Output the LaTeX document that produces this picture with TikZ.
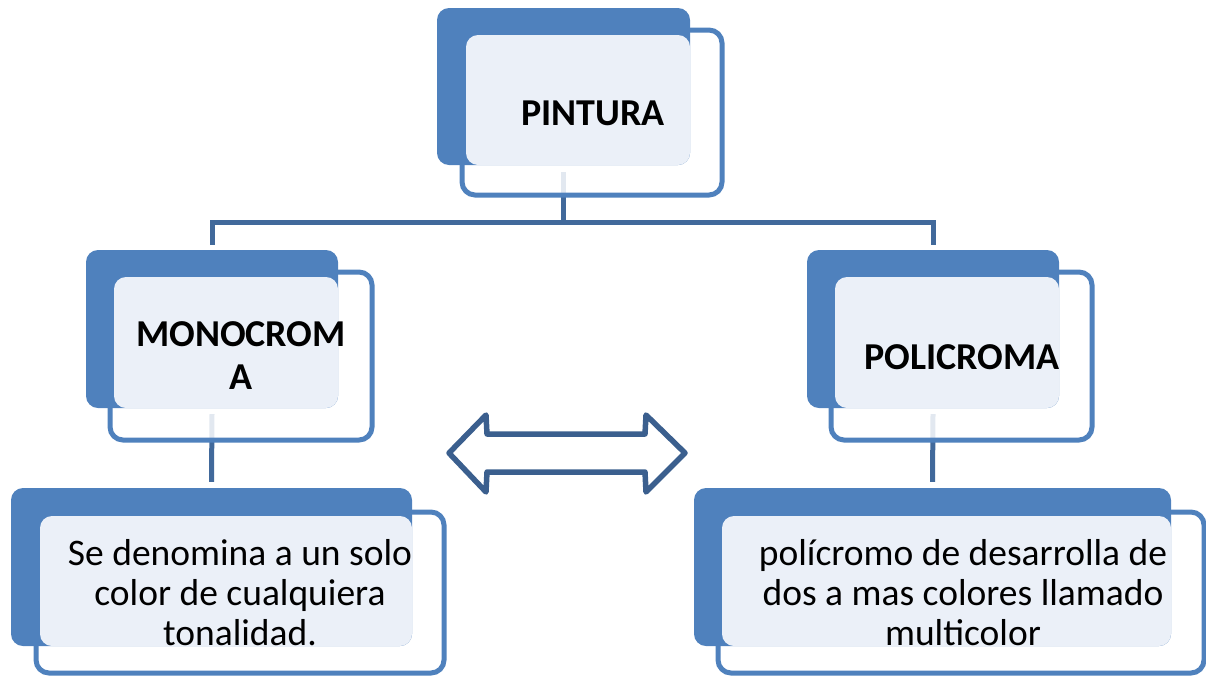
\documentclass[tikz,border=0pt]{standalone}
\usepackage{fontspec}
\setmainfont{Carlito}
\definecolor{accent}{HTML}{4F81BD}
\definecolor{panel}{HTML}{EBF0F8}
\definecolor{conncol}{HTML}{41699B}
\definecolor{arrowcol}{HTML}{3B5F8E}
\tikzset{
 outerbox/.style={draw=accent, line width=5pt, fill=white, fill opacity=0.85, draw opacity=1, rounded corners=13pt, inner sep=0pt},
 darkbox/.style={fill=accent, rounded corners=12pt, inner sep=0pt},
 panelbox/.style={fill=panel, rounded corners=12pt, inner sep=0pt},
 conn/.style={draw=conncol, line width=5pt},
 title/.style={font=\fontsize{38}{43}\selectfont\bfseries, align=center, inner sep=0pt},
 body/.style={font=\fontsize{37.5}{40}\selectfont, align=center, inner sep=0pt},
}
\begin{document}
\begin{tikzpicture}[x=1pt,y=-1pt]
\useasboundingbox (0,0) rectangle (1206,675);
% invisible anchors for connectors (dark boxes positions)
\path (563.5,86.5) node[minimum width=253pt, minimum height=157pt, inner sep=0pt] (pd) {};
\path (212,329) node[minimum width=252pt, minimum height=158pt, inner sep=0pt] (md) {};
\path (933,329) node[minimum width=252pt, minimum height=158pt, inner sep=0pt] (qd) {};
\path (211.5,567) node[minimum width=401pt, minimum height=158pt, inner sep=0pt] (mcd) {};
\path (932.5,567) node[minimum width=477pt, minimum height=158pt, inner sep=0pt] (qcd) {};
\coordinate (bar) at (563.5,222);
% connectors
\draw[conn] ([yshift=-7pt]pd.south) -- (bar);
\draw[conn] ([yshift=5pt]md.north) |- (bar) -| ([yshift=5pt]qd.north);
\draw[conn] ([yshift=-6pt]md.south) -- ([yshift=6pt]mcd.north);
\draw[conn] ([yshift=-6pt]qd.south) -- ([yshift=6pt]qcd.north);
% PINTURA
\node[outerbox, minimum width=260pt, minimum height=165pt] (po) at (592,112.5) {};
\node[darkbox, minimum width=253pt, minimum height=157pt] (pdk) at (563.5,86.5) {};
\node[panelbox, minimum width=224pt, minimum height=130pt] (pp) at (578,100) {};
\node[title] (pt) at (593,113) {PINTURA};
% MONOCROMA
\node[outerbox, minimum width=262pt, minimum height=168pt] (mo) at (241,356) {};
\node[darkbox, minimum width=252pt, minimum height=158pt] (mdk) at (212,329) {};
\node[panelbox, minimum width=224pt, minimum height=131pt] (mp) at (226,342.5) {};
\node[title] (mt) at (241,356) {MONOCROM\\A};
% POLICROMA
\node[outerbox, minimum width=261pt, minimum height=168pt] (qo) at (961.5,356) {};
\node[darkbox, minimum width=252pt, minimum height=158pt] (qdk) at (933,329) {};
\node[panelbox, minimum width=224pt, minimum height=131pt] (qp) at (947,342.5) {};
\node[title] (qt) at (962,357) {POLICROMA};
% Monocroma child
\node[outerbox, minimum width=408pt, minimum height=161pt] (mco) at (240,592.5) {};
\node[darkbox, minimum width=401pt, minimum height=158pt] (mcdk) at (211.5,567) {};
\node[panelbox, minimum width=372pt, minimum height=130pt] (mcp) at (226,581) {};
\node[body] (mct) at (240,593) {Se denomina a un solo\\color de cualquiera\\tonalidad.};
% Policroma child
\node[outerbox, minimum width=486pt, minimum height=161pt] (qco) at (961,592.5) {};
\node[darkbox, minimum width=477pt, minimum height=158pt] (qcdk) at (932.5,567) {};
\node[panelbox, minimum width=449pt, minimum height=130pt] (qcp) at (946.5,581) {};
\node[body] (qct) at (963,593) {polícromo de desarrolla de\\dos a mas colores llamado\\multicolor};
% double arrow
\draw[arrowcol, line width=5.5pt, line join=round]
 (449,453) -- (486,415) -- (487,434) -- (645,434) -- (646,415) -- (685,453)
 -- (646,492) -- (645,472) -- (487,472) -- (486,492) -- cycle;
\end{tikzpicture}
\end{document}
